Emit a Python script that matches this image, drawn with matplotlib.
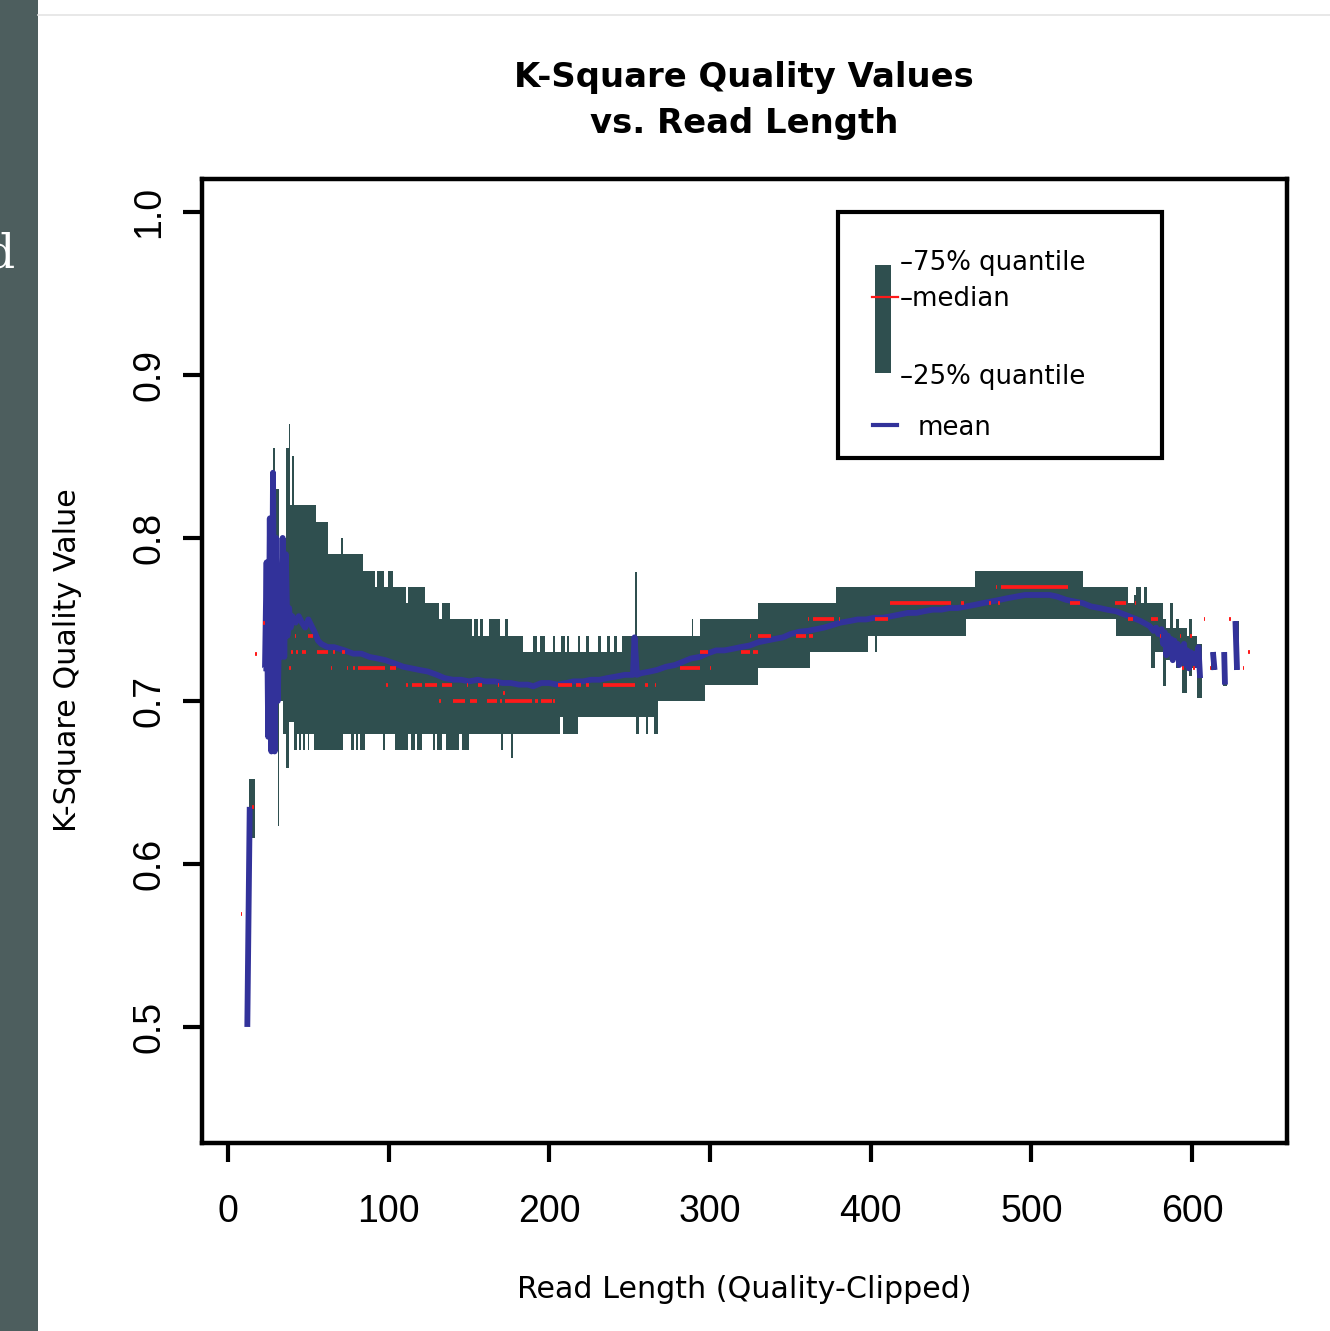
import numpy as np
import matplotlib
matplotlib.use("Agg")
import matplotlib.pyplot as plt
from matplotlib.patches import Rectangle
from matplotlib.lines import Line2D

# ---------------- data ----------------
# 75% quantile: step runs (start read length, value); nan = no data
q75_x = [13, 17, 23, 24.5, 26, 28, 29.5, 32, 34, 36, 37.8, 38.8, 40, 41, 54.7, 62, 70.3, 71.3,
         84, 91.5, 93, 97, 99.5, 102.8, 110.5, 112, 122.5, 131.5, 133, 138, 151.6, 153, 155.7,
         157, 158.7, 162.7, 169, 172.5, 174, 183.6, 190, 192, 194, 197.5, 202.3, 203.5, 207.2,
         209.8, 211, 212.5, 218, 219.3, 222.5, 224.4, 230, 232, 236, 238, 240, 242, 245, 253.5,
         254.5, 288.5, 289.5, 293.6, 329.7, 378.6, 464.7, 532, 560, 564, 565.3, 568.4, 570.4,
         571.7, 581.7, 584, 586, 588, 590, 592, 594, 597, 598, 600, 603, 606, 612, 615, 619, 622,
         626, 629]
q75_v = [0.652, np.nan, 0.77, 0.79, 0.812, 0.855, 0.83, 0.762, 0.80, 0.855, 0.87, 0.82, 0.85, 0.82,
         0.81, 0.79, 0.80, 0.79, 0.78, 0.77, 0.78, 0.77, 0.78, 0.77, 0.76, 0.77, 0.76, 0.75, 0.76,
         0.75, 0.74, 0.75, 0.74, 0.75, 0.74, 0.75, 0.74, 0.75, 0.74, 0.73, 0.74, 0.73, 0.74, 0.73,
         0.74, 0.73, 0.74, 0.73, 0.74, 0.73, 0.74, 0.73, 0.74, 0.73, 0.74, 0.73, 0.74, 0.73, 0.74,
         0.73, 0.74, 0.779, 0.74, 0.75, 0.74, 0.75, 0.76, 0.77, 0.78, 0.77, 0.76, 0.765, 0.77, 0.76,
         0.77, 0.76, 0.75, 0.745, 0.76, 0.745, 0.75, 0.745, 0.745, 0.74, 0.75, 0.74, 0.735, np.nan,
         0.73, np.nan, 0.73, np.nan, 0.749, np.nan]

# 25% quantile: step runs
q25_x = [13, 17, 23, 26, 30.8, 32, 34, 35.8, 37.8, 41.3, 42.7, 44.4, 45.4, 46.5, 48.1, 49.6, 50.6,
         53.8, 71.5, 76.7, 78.2, 79.4, 80.8, 81.9, 85, 96.5, 97.9, 104, 112, 114, 116.5, 117.5,
         120.5, 127.5, 129, 130, 133, 135.5, 144, 145.7, 149.7, 170, 171, 176, 177.5, 206.5,
         208.5, 218, 254, 255.6, 260.2, 261.6, 265.4, 267.5, 296.7, 329.7, 362, 398.3, 402.5,
         404, 459.5, 552.8, 574.6, 577, 581.7, 584, 590, 592, 594, 597, 598, 600, 603, 606, 612,
         615, 619, 622, 626, 629]
q25_v = [0.616, np.nan, 0.68, 0.67, 0.623, 0.70, 0.68, 0.659, 0.687, 0.67, 0.68, 0.67, 0.68, 0.67,
         0.68, 0.67, 0.68, 0.67, 0.68, 0.67, 0.68, 0.67, 0.68, 0.67, 0.68, 0.67, 0.68, 0.67, 0.68,
         0.67, 0.68, 0.67, 0.68, 0.67, 0.68, 0.67, 0.68, 0.67, 0.68, 0.67, 0.68, 0.67, 0.68, 0.665,
         0.68, 0.69, 0.68, 0.69, 0.68, 0.69, 0.68, 0.69, 0.68, 0.70, 0.71, 0.72, 0.73, 0.74, 0.73,
         0.74, 0.75, 0.74, 0.72, 0.73, 0.709, 0.725, 0.72, 0.725, 0.705, 0.725, 0.715, 0.72, 0.702,
         np.nan, 0.719, np.nan, 0.709, np.nan, 0.719, np.nan]

# median: short horizontal runs (from, to, value)
med_x0 = [8, 15, 17, 22, 38, 39.5, 41.5, 42.5, 45.8, 50, 55.2, 64, 65.5, 70.7, 73.8, 77.8, 81.1,
          98.6, 100.7, 110.8, 114.3, 122.5, 131.3, 133, 140.2, 148.5, 150.4, 155.7, 160.9, 167.8,
          169.2, 171.3, 172.5, 191, 194.5, 202.3, 205.5, 216.8, 222.7, 233.5, 259.3, 265.5, 281.2,
          293.6, 299.8, 319.4, 324.6, 326.7, 329.8, 353.7, 360.8, 361.8, 363.8, 380, 402.5, 411.8,
          456.1, 473.6, 477.8, 479.2, 481.3, 523.8, 551.8, 560, 564.2, 574.6, 579.8, 592.3, 593.9,
          598.9, 600.6, 607.2, 611, 623, 631.6, 635]
med_x1 = [9, 16, 18, 23, 39, 40.5, 42.5, 43.3, 48.8, 53, 62.4, 65, 66.5, 72.8, 74.8, 78.8, 97.7,
          99.6, 104.8, 111.8, 120.5, 129.8, 132.3, 139.2, 147.4, 149.5, 154.8, 157.8, 167.1, 168.8,
          170.3, 172.1, 188.9, 193, 201.7, 203.4, 213.8, 219.9, 224.8, 253.2, 261.4, 266.5, 293.6,
          298.8, 300.8, 324.6, 325.6, 329.8, 338.1, 360, 361.8, 363.8, 377.3, 381, 410.8, 450.2,
          458.2, 475, 478.8, 480.2, 522.7, 530, 559.1, 563.2, 565.2, 578.7, 580.8, 593.3, 594.9,
          599.9, 601.6, 608.2, 612, 624, 632.6, 636]
med_v = [0.569, 0.635, 0.729, 0.748, 0.72, 0.73, 0.74, 0.73, 0.73, 0.74, 0.73, 0.72, 0.73, 0.73,
         0.72, 0.72, 0.72, 0.71, 0.72, 0.71, 0.71, 0.71, 0.70, 0.71, 0.70, 0.71, 0.70, 0.71, 0.70,
         0.71, 0.70, 0.705, 0.70, 0.70, 0.70, 0.70, 0.71, 0.71, 0.71, 0.71, 0.71, 0.71, 0.72, 0.73,
         0.72, 0.73, 0.74, 0.73, 0.74, 0.74, 0.75, 0.74, 0.75, 0.75, 0.75, 0.76, 0.76, 0.76, 0.77,
         0.76, 0.77, 0.76, 0.76, 0.75, 0.76, 0.75, 0.74, 0.74, 0.72, 0.74, 0.72, 0.75, 0.72, 0.75,
         0.72, 0.73]

# mean per read length (nan = break in the line)
mean_x = [12, 13.5, np.nan, 22, 23, 24, 25, 26, 27, 28, 29, 30, 31, 32, 33, 34, 35, 36, 37, 38, 39,
          40, 42, 44, 46, 48, 50, 52, 54, 56, 58, 62, 66, 72.6, 78, 83, 88, 93.3, 98, 103.7, 109,
          114, 119, 124.5, 130, 134.8, 140, 145, 150, 155.5, 160, 165.9, 171, 176, 181, 186.6, 190,
          195, 200, 205, 210.6, 215, 221, 226, 231.3, 236, 241.7, 247, 252, 253, 254.5, 257, 262.4,
          267, 272.7, 278, 283.1, 288, 293.5, 298, 303.8, 309, 314.2, 319, 324.6, 330, 335, 340,
          345.4, 350, 355.7, 361, 366, 371, 376.4, 381, 386.8, 392, 397.2, 402, 407.5, 413, 418,
          423, 428.4, 433, 438.7, 444, 449.1, 454, 459.5, 465, 469.8, 475, 480.2, 485, 490.6, 496,
          500.9, 506, 511.3, 516, 521.7, 527, 532, 537, 542.4, 547, 552.8, 558, 563.1, 568, 573.5,
          576, 577.6, 579, 581, 582, 583, 584, 585, 586, 587, 588, 589, 590, 591, 592, 593, 594,
          595, 596, 597, 598, 599, 600, 601, 602, 604, 605, np.nan, 613, 614, np.nan, 620, 620.5,
          np.nan, 627, 628]
mean_y = [0.50, 0.635, np.nan, 0.72, 0.72, 0.785, 0.678, 0.812, 0.669, 0.84, 0.669, 0.80, 0.70,
          0.76, 0.727, 0.80, 0.727, 0.79, 0.74, 0.757, 0.745, 0.752, 0.748, 0.752, 0.748, 0.745,
          0.75, 0.746, 0.742, 0.737, 0.735, 0.733, 0.733, 0.731, 0.729, 0.729, 0.727, 0.726, 0.725,
          0.723, 0.721, 0.72, 0.719, 0.718, 0.716, 0.714, 0.713, 0.713, 0.712, 0.713, 0.712, 0.712,
          0.711, 0.711, 0.710, 0.710, 0.709, 0.711, 0.711, 0.710, 0.711, 0.712, 0.712, 0.713,
          0.713, 0.714, 0.715, 0.716, 0.716, 0.739, 0.716, 0.717, 0.718, 0.719, 0.721, 0.722,
          0.724, 0.726, 0.727, 0.729, 0.731, 0.731, 0.732, 0.733, 0.734, 0.736, 0.737, 0.738,
          0.739, 0.741, 0.7425, 0.743, 0.744, 0.745, 0.7466, 0.748, 0.749, 0.750, 0.750, 0.751,
          0.751, 0.752, 0.753, 0.754, 0.754, 0.755, 0.756, 0.756, 0.757, 0.757, 0.758, 0.759,
          0.760, 0.761, 0.762, 0.763, 0.764, 0.765, 0.765, 0.765, 0.765, 0.764, 0.762, 0.761,
          0.760, 0.758, 0.757, 0.756, 0.755, 0.753, 0.751, 0.749, 0.746, 0.743, 0.745, 0.741,
          0.744, 0.735, 0.742, 0.728, 0.74, 0.73, 0.738, 0.725, 0.737, 0.728, 0.735, 0.722, 0.733,
          0.728, 0.735, 0.722, 0.731, 0.72, 0.73, 0.725, 0.729, 0.722, 0.733, 0.714, np.nan, 0.730,
          0.719, np.nan, 0.730, 0.710, np.nan, 0.749, 0.719]

x_ticks = [0, 100, 200, 300, 400, 500, 600]
y_ticks = [0.5, 0.6, 0.7, 0.8, 0.9, 1.0]
y_ticklabels = ["0.5", "0.6", "0.7", "0.8", "0.9", "1.0"]
legend_labels = ["\u201375% quantile", "\u2013median", "\u201325% quantile", "mean"]

TEAL = "#2f4f4f"
BLUE = "#32329a"
RED = "#ff1a1a"

# ---------------- figure ----------------
W, H = 1330, 1331
fig = plt.figure(figsize=(W / 100, H / 100), dpi=100)
fig.patch.set_facecolor("white")


def fx(px):
    return px / W


def fy(py):
    return 1 - py / H


# slide background remnants
fig.patches.append(Rectangle((0, 0), fx(38), 1, transform=fig.transFigure,
                             facecolor="#4d5e5e", edgecolor="none", zorder=0))
fig.lines.append(Line2D([fx(38), 1], [fy(15), fy(15)], transform=fig.transFigure,
                        color="#e4e4e4", lw=1.2))
fig.text(fx(15), fy(255), "d", color="white", fontsize=34, family="DejaVu Serif",
         ha="right", va="center")

ax = fig.add_axes([fx(202), fy(1143), fx(1287) - fx(202), fy(179) - fy(1143)])
ax.set_xlim(-16.2, 659.1)
ax.set_ylim(0.4288, 1.0202)


def step_at(xs, vs, x):
    i = np.searchsorted(np.asarray(xs), x, side="right") - 1
    return vs[i]


# interquartile band: contiguous pieces drawn as step fills (no seams)
bx = sorted(set(q75_x) | set(q25_x))
piece_x, piece_lo, piece_hi = [], [], []
for a, b in zip(bx[:-1], bx[1:]):
    h = step_at(q75_x, q75_v, a)
    l = step_at(q25_x, q25_v, a)
    if np.isnan(h) or np.isnan(l):
        if piece_x:
            ax.fill_between(piece_x, piece_lo, piece_hi, step="post", color=TEAL,
                            linewidth=0, antialiased=True, zorder=2)
        piece_x, piece_lo, piece_hi = [], [], []
        continue
    if piece_x and piece_x[-1] == a:
        piece_lo[-1], piece_hi[-1] = l, h
    else:
        piece_x.append(a)
        piece_lo.append(l)
        piece_hi.append(h)
    piece_x.append(b)
    piece_lo.append(l)
    piece_hi.append(h)
if piece_x:
    ax.fill_between(piece_x, piece_lo, piece_hi, step="post", color=TEAL,
                    linewidth=0, zorder=2)

ax.plot(mean_x, mean_y, color=BLUE, lw=4.2, solid_capstyle="butt",
        solid_joinstyle="round", zorder=3)
ax.hlines(med_v, med_x0, med_x1, colors=RED, lw=2.7, zorder=4)

# axes styling
for s in ax.spines.values():
    s.set_linewidth(3.2)
ax.set_xticks(x_ticks)
ax.set_xticklabels([str(t) for t in x_ticks])
ax.set_yticks(y_ticks)
ax.set_yticklabels(y_ticklabels)
ax.tick_params(direction="out", length=14, width=3.0, labelsize=27)
ax.tick_params(axis="x", pad=23)
ax.tick_params(axis="y", pad=11, labelrotation=90)
for lab in ax.get_xticklabels() + ax.get_yticklabels():
    lab.set_family("Liberation Sans")
for lab in ax.get_yticklabels():
    lab.set_va("center")

# titles and axis labels
fig.text(fx(744), fy(77), "K-Square Quality Values", fontsize=24.4, fontweight="bold",
         ha="center", va="center")
fig.text(fx(744), fy(124), "vs. Read Length", fontsize=24.4, fontweight="bold",
         ha="center", va="center")
fig.text(fx(744), fy(1290), "Read Length (Quality-Clipped)", fontsize=21.7,
         ha="center", va="center")
fig.text(fx(68), fy(660), "K-Square Quality Value", fontsize=21.7, rotation=90,
         ha="center", va="center")

# legend (drawn by hand like the original)
fig.patches.append(Rectangle((fx(838), fy(458)), fx(1162) - fx(838), fy(212) - fy(458),
                             transform=fig.transFigure, facecolor="white",
                             edgecolor="black", lw=3.0, zorder=5))
fig.patches.append(Rectangle((fx(875), fy(373)), fx(891) - fx(875), fy(265) - fy(373),
                             transform=fig.transFigure, facecolor=TEAL,
                             edgecolor="none", zorder=6))
fig.lines.append(Line2D([fx(872), fx(898)], [fy(297), fy(297)], transform=fig.transFigure,
                        color=RED, lw=1.6, zorder=7))
fig.lines.append(Line2D([fx(873), fx(897)], [fy(425), fy(425)], transform=fig.transFigure,
                        color=BLUE, lw=3.0, zorder=7))
for txt, xx, yy in zip(legend_labels, [900, 900, 900, 918], [263, 299, 377, 428]):
    fig.text(fx(xx), fy(yy), txt, fontsize=18.7, ha="left", va="center", zorder=8)

fig.savefig("out.png", dpi=100)
